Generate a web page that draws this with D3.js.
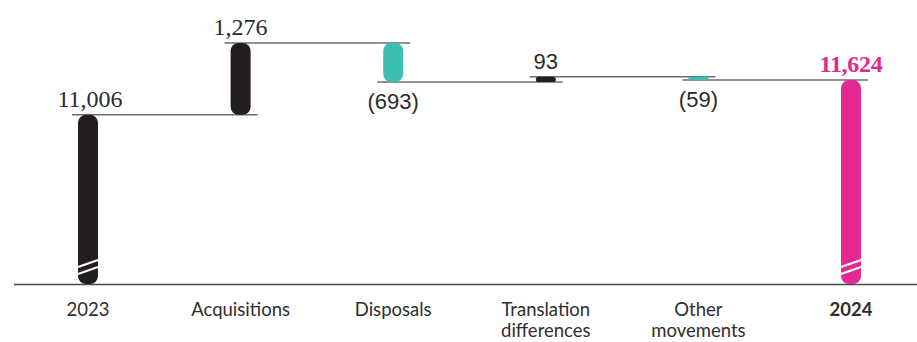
<!DOCTYPE html>
<html>
<head>
<meta charset="utf-8">
<script src="https://cdn.jsdelivr.net/npm/d3@7"></script>
<style>
  html, body { margin: 0; padding: 0; background: #fff; }
  svg { display: block; }
</style>
</head>
<body>
<svg id="chart" width="917" height="342"></svg>
<script>
// Goodwill bridge, 2023 to 2024
const categories = ["2023", "Acquisitions", "Disposals", "Translation differences", "Other movements", "2024"];
const labelLines = [["2023"], ["Acquisitions"], ["Disposals"], ["Translation", "differences"], ["Other", "movements"], ["2024"]];
const kinds = ["total", "delta", "delta", "delta", "delta", "total"];
const values = [11006, 1276, -693, 93, -59, 11624];
const valueLabels = ["11,006", "1,276", "(693)", "93", "(59)", "11,624"];
const axisFloor = 8000; // the value axis is broken; bars start here

const W = 917, H = 342;
const svg = d3.select("#chart");

const x = d3.scalePoint().domain(categories).range([88, 851]);
const y = d3.scaleLinear().domain([axisFloor, 12282]).range([284, 43]);

// running totals for each step
let run = 0;
const steps = categories.map((c, i) => {
  let start, end;
  if (kinds[i] === "total") { start = axisFloor; end = values[i]; run = values[i]; }
  else { start = run; end = run + values[i]; run = end; }
  return { cat: c, i, start, end, v: values[i], kind: kinds[i] };
});

const colour = d => d.i === 5 ? "#e3288f" : (d.kind === "total" || d.v > 0 ? "#231f20" : "#3cbfb1");
const barW = 20;

// connector lines from each bar's resting level to the next bar
const conn = steps.slice(0, -1).map((d, k) => ({ level: d.end, from: d.cat, to: steps[k + 1].cat }));
svg.append("g").selectAll("line").data(conn).join("line")
  .attr("x1", d => x(d.from) - 16)
  .attr("x2", d => x(d.to) + 17)
  .attr("y1", d => y(d.level))
  .attr("y2", d => y(d.level))
  .attr("stroke", "#6d6d6d")
  .attr("stroke-width", 1.5);

// baseline
svg.append("line")
  .attr("x1", 14).attr("x2", W)
  .attr("y1", y(axisFloor) + 0.5).attr("y2", y(axisFloor) + 0.5)
  .attr("stroke", "#4a4a4a").attr("stroke-width", 1.5);

// bars with rounded ends
svg.append("g").selectAll("rect").data(steps).join("rect")
  .attr("x", d => x(d.cat) - barW / 2)
  .attr("width", barW)
  .attr("y", d => y(Math.max(d.start, d.end)))
  .attr("height", d => Math.max(2.5, Math.abs(y(d.start) - y(d.end))))
  .attr("rx", d => Math.min(8, Math.abs(y(d.start) - y(d.end)) / 2))
  .attr("fill", colour);

// break marks on the total bars
const breaks = steps.filter(d => d.kind === "total");
[263, 270].forEach(yy => {
  svg.append("g").selectAll("line").data(breaks).join("line")
    .attr("x1", d => x(d.cat) - barW / 2)
    .attr("x2", d => x(d.cat) + barW / 2)
    .attr("y1", yy + 4)
    .attr("y2", yy - 3)
    .attr("stroke", "#fff")
    .attr("stroke-width", 2.2);
});

// value labels
svg.append("g").selectAll("text").data(steps).join("text")
  .attr("x", d => x(d.cat) + (d.i === 0 ? 2 : 0))
  .attr("y", d => d.v < 0 ? y(d.end) + 27 : y(Math.max(d.start, d.end)) - 8)
  .attr("text-anchor", "middle")
  .attr("font-family", d => (d.i === 0 || d.i === 1 || d.i === 5) ? "'Liberation Serif', serif" : "'Liberation Sans', sans-serif")
  .attr("font-size", d => (d.i === 0 || d.i === 1 || d.i === 5) ? 24 : 22)
  .attr("font-weight", d => d.i === 5 ? "bold" : "normal")
  .attr("letter-spacing", d => d.i === 5 ? -0.3 : 0)
  .attr("fill", d => d.i === 5 ? "#e3288f" : "#2b2b2b")
  .text((d, i) => valueLabels[i]);

// category labels
const cl = svg.append("g").selectAll("text").data(steps).join("text")
  .attr("x", d => x(d.cat))
  .attr("y", 316)
  .attr("text-anchor", "middle")
  .attr("font-family", "Lato, sans-serif")
  .attr("font-size", 18.5)
  .attr("font-weight", d => d.i === 5 ? "bold" : "normal")
  .attr("fill", "#2e2e2e");
cl.selectAll("tspan").data(d => labelLines[d.i]).join("tspan")
  .attr("x", function () { return d3.select(this.parentNode).attr("x"); })
  .attr("dy", (t, j) => j === 0 ? 0 : 21)
  .text(t => t);
</script>
</body>
</html>
